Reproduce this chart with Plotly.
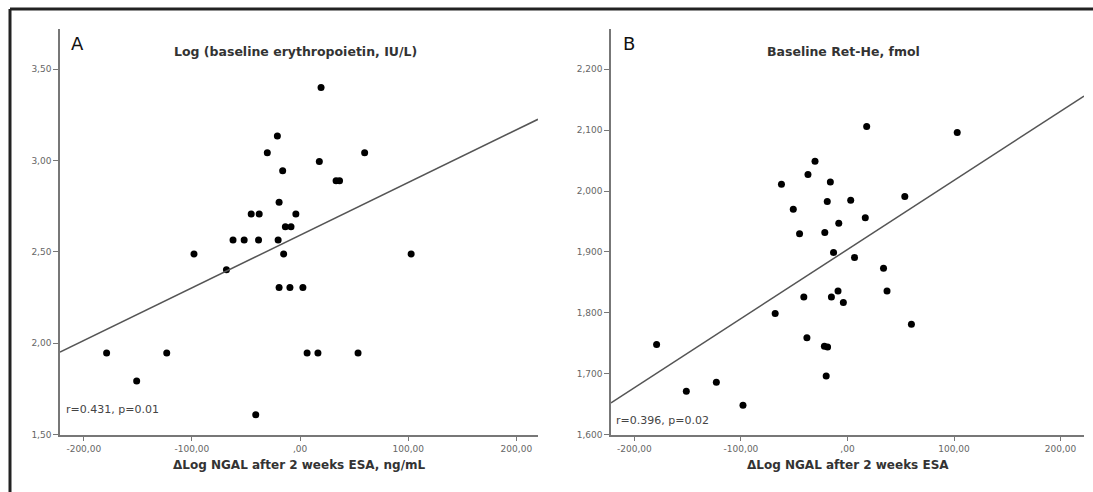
import plotly.graph_objects as go

# ---------------- data ----------------
a_x = [19.4, -21.0, -30.3, 17.8, 59.7, -16.1, 33.3, 36.5, -19.4, -45.2, -37.8, -3.9,
       -13.6, -8.4, -62.0, -51.7, -38.4, -20.3, -98.1, -68.1, -15.2, 102.7, -19.4, -9.4,
       2.6, -178.9, -151.1, -123.3, 6.5, 16.5, 53.6, -41.0]
a_y = [3.400, 3.134, 3.043, 2.995, 3.043, 2.944, 2.890, 2.890, 2.772, 2.707, 2.707, 2.707,
       2.638, 2.638, 2.565, 2.565, 2.565, 2.565, 2.489, 2.402, 2.489, 2.489, 2.305, 2.305,
       2.305, 1.947, 1.793, 1.947, 1.947, 1.947, 1.947, 1.609]

b_x = [18.0, 103.0, -30.5, -37.1, -62.0, -16.1, -19.0, 3.0, 53.8, -50.9, 16.7, -8.2,
       -45.0, -21.3, -13.1, 6.6, 33.8, 37.1, -8.9, -41.0, -15.1, -3.9, -67.9, 60.0,
       -38.1, -179.2, -21.7, -18.7, -151.3, -123.1, -20.0, -98.1]
b_y = [2.106, 2.096, 2.049, 2.027, 2.011, 2.015, 1.983, 1.985, 1.991, 1.970, 1.956, 1.947,
       1.930, 1.932, 1.899, 1.891, 1.873, 1.836, 1.836, 1.826, 1.826, 1.817, 1.799, 1.781,
       1.759, 1.748, 1.745, 1.744, 1.671, 1.686, 1.696, 1.648]

# fitted regression lines (end points)
a_fit_x = [-222, 220]
a_fit_y = [1.951, 3.226]
b_fit_x = [-222, 222]
b_fit_y = [1.652, 2.156]

x_tickvals = [-200, -100, 0, 100, 200]
x_ticktext = ["-200,00", "-100,00", ",00", "100,00", "200,00"]
a_tickvals = [1.5, 2.0, 2.5, 3.0, 3.5]
a_ticktext = ["1,50", "2,00", "2,50", "3,00", "3,50"]
b_tickvals = [1.6, 1.7, 1.8, 1.9, 2.0, 2.1, 2.2]
b_ticktext = ["1,600", "1,700", "1,800", "1,900", "2,000", "2,100", "2,200"]

titles = ["Log (baseline erythropoietin, IU/L)", "Baseline Ret-He, fmol"]
xtitles = ["ΔLog NGAL after 2 weeks ESA, ng/mL", "ΔLog NGAL after 2 weeks ESA"]
letters = ["A", "B"]
stats = ["r=0.431, p=0.01", "r=0.396, p=0.02"]

# ---------------- figure ----------------
W, H = 1093, 492
FONT = "DejaVu Sans"

def px_x(p):
    return p / W

def px_y(p):
    return 1 - p / H

fig = go.Figure()

fig.add_trace(go.Scatter(x=a_x, y=a_y, mode="markers", xaxis="x", yaxis="y",
                         marker=dict(color="black", size=7), showlegend=False))
fig.add_trace(go.Scatter(x=a_fit_x, y=a_fit_y, mode="lines", xaxis="x", yaxis="y",
                         line=dict(color="#555555", width=1.5), showlegend=False))
fig.add_trace(go.Scatter(x=b_x, y=b_y, mode="markers", xaxis="x2", yaxis="y2",
                         marker=dict(color="black", size=7), showlegend=False))
fig.add_trace(go.Scatter(x=b_fit_x, y=b_fit_y, mode="lines", xaxis="x2", yaxis="y2",
                         line=dict(color="#555555", width=1.5), showlegend=False))

axis_common = dict(showgrid=False, zeroline=False, showline=True, linecolor="#777777",
                   linewidth=1.5, ticks="outside", ticklen=5, tickcolor="#777777",
                   tickwidth=1, tickfont=dict(family=FONT, size=9, color="#666666"))

ydom = [px_y(439), px_y(29)]
fig.update_layout(
    autosize=True,
    margin=dict(l=0, r=0, t=0, b=0, pad=0),
    paper_bgcolor="white", plot_bgcolor="white",
    xaxis=dict(domain=[px_x(60), px_x(538)], range=[-222, 220], anchor="y",
               tickvals=x_tickvals, ticktext=x_ticktext, **axis_common),
    yaxis=dict(domain=ydom, range=[1.5, 3.722], anchor="x",
               tickvals=a_tickvals, ticktext=a_ticktext, **axis_common),
    xaxis2=dict(domain=[px_x(611), px_x(1084)], range=[-222, 222], anchor="y2",
                tickvals=x_tickvals, ticktext=x_ticktext, **axis_common),
    yaxis2=dict(domain=ydom, range=[1.6, 2.2667], anchor="x2",
                tickvals=b_tickvals, ticktext=b_ticktext, **axis_common),
)

ann = []
centers = [(60 + 538) / 2, (611 + 1084) / 2]
letter_x = [69, 621]
stat_pos = [(64, 414), (614, 425)]
for i in range(2):
    ann.append(dict(text="<b>" + titles[i] + "</b>", x=px_x(centers[i] - 4), y=px_y(52),
                    xref="paper", yref="paper", showarrow=False, xanchor="center", yanchor="middle",
                    font=dict(family=FONT, size=12.5, color="#333333")))
    ann.append(dict(text="<b>" + xtitles[i] + "</b>", x=px_x(centers[i]), y=px_y(470),
                    xref="paper", yref="paper", showarrow=False, xanchor="center", yanchor="middle",
                    font=dict(family=FONT, size=12, color="#333333")))
    ann.append(dict(text=letters[i], x=px_x(letter_x[i]), y=px_y(44),
                    xref="paper", yref="paper", showarrow=False, xanchor="left", yanchor="middle",
                    font=dict(family=FONT, size=18, color="#111111")))
    ann.append(dict(text=stats[i], x=px_x(stat_pos[i][0]), y=px_y(stat_pos[i][1]),
                    xref="paper", yref="paper", showarrow=False, xanchor="left", yanchor="middle",
                    font=dict(family=FONT, size=11, color="#444444")))
fig.update_layout(annotations=ann)

# outer frame (left and top edges visible)
fig.add_shape(type="line", xref="paper", yref="paper", x0=px_x(10), x1=px_x(10),
              y0=-0.05, y1=px_y(9), line=dict(color="#222222", width=3))
fig.add_shape(type="line", xref="paper", yref="paper", x0=px_x(10), x1=1.05,
              y0=px_y(9), y1=px_y(9), line=dict(color="#222222", width=3))

post = ("document.documentElement.style.margin='0px';"
        "document.body.style.margin='0px';"
        "document.documentElement.style.overflow='hidden';"
        "document.body.style.overflow='hidden';")
fig.write_html("out.html", post_script=post, config={"displayModeBar": False, "responsive": True},
               default_width="100vw", default_height="100vh")
